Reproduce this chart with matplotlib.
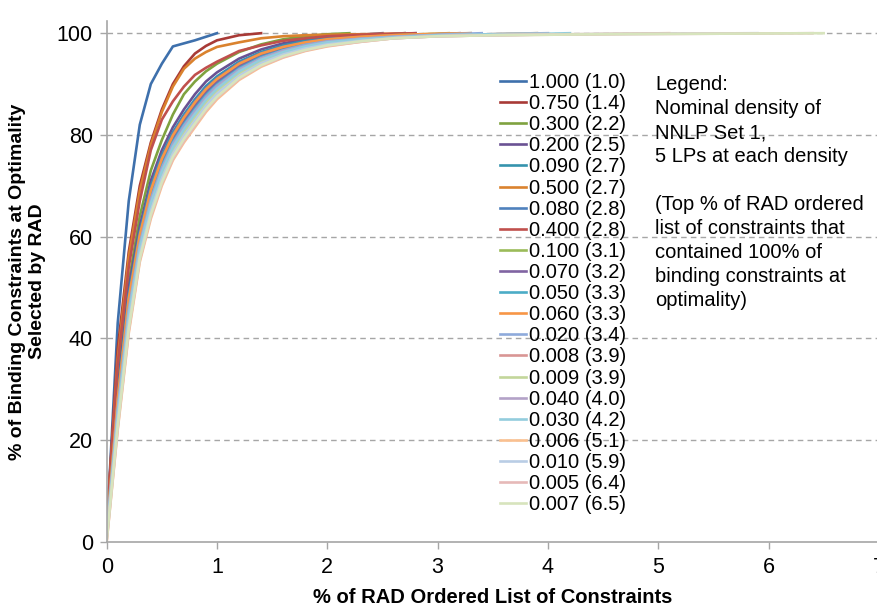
import matplotlib
matplotlib.use("Agg")
import matplotlib.pyplot as plt

plt.rcParams['font.family'] = ['Liberation Sans', 'DejaVu Sans']

grid = [0, 0.1, 0.2, 0.3, 0.4, 0.5, 0.6, 0.7, 0.8, 0.9, 1.0, 1.2, 1.4, 1.6, 1.8, 2.0]

labels = ["1.000 (1.0)", "0.750 (1.4)", "0.300 (2.2)", "0.200 (2.5)", "0.090 (2.7)",
          "0.500 (2.7)", "0.080 (2.8)", "0.400 (2.8)", "0.100 (3.1)", "0.070 (3.2)",
          "0.050 (3.3)", "0.060 (3.3)", "0.020 (3.4)", "0.008 (3.9)", "0.009 (3.9)",
          "0.040 (4.0)", "0.030 (4.2)", "0.006 (5.1)", "0.010 (5.9)", "0.005 (6.4)",
          "0.007 (6.5)"]

colors = ["#3E70AC", "#A83A36", "#7FA23F", "#6A5293", "#3593AD", "#DA822E",
          "#4F81BD", "#C0504D", "#9BBB59", "#8064A2", "#4BACC6", "#F79646",
          "#8EAADB", "#D99694", "#C3D69B", "#B3A2C7", "#93CDDD", "#FAC090",
          "#B9CDE5", "#E6B9B8", "#D7E4BD"]

# x positions (% of RAD ordered list) and y values (% binding constraints)
x_d1000 = [0, 0.1, 0.2, 0.3, 0.4, 0.5, 0.6, 0.7, 0.8, 0.9, 1.0]
y_d1000 = [2, 43, 67, 82, 90, 94, 97.4, 98.0, 98.6, 99.3, 100]

x_d0750 = [0, 0.1, 0.2, 0.3, 0.4, 0.5, 0.6, 0.7, 0.8, 0.9, 1.0, 1.2, 1.4]
y_d0750 = [3, 38, 57, 70, 78.5, 85, 90, 93.5, 96, 97.5, 98.6, 99.6, 100]

x_d0300 = grid[:15] + [2.0, 2.2]
y_d0300 = [3, 32, 51, 64, 73, 79, 84, 88, 90.5, 92.5, 94, 96.3, 97.8, 98.8, 99.4, 99.8, 100]

x_d0200 = grid + [2.3, 2.5]
y_d0200 = [3, 30, 50, 62, 71, 77, 81.5, 85, 88, 90.5, 92.3, 95, 96.8, 98, 98.8, 99.3, 99.7, 100]

x_d0090 = grid + [2.3, 2.6, 2.7]
y_d0090 = [2.5, 28.8, 48.6, 61, 69.9, 76, 80.5, 84, 87, 89.6, 91.5, 94.4, 96.3, 97.6, 98.5, 99.0, 99.5, 99.8, 100]

x_d0500 = grid + [2.3, 2.6, 2.7]
y_d0500 = [3, 36, 56, 69, 78, 84.5, 89.5, 93, 95, 96.3, 97.3, 98.2, 99.0, 99.4, 99.6, 99.7, 99.8, 99.9, 100]

x_d0080 = grid + [2.3, 2.6, 2.8]
y_d0080 = [2.4, 28.4, 48.2, 60.6, 69.5, 75.6, 80.2, 83.7, 86.7, 89.3, 91.2, 94.2, 96.1, 97.4, 98.3, 98.9, 99.4, 99.8, 100]

x_d0400 = grid + [2.3, 2.6, 2.8]
y_d0400 = [4, 35, 54, 67, 77, 83, 86.6, 89.5, 91.8, 93.2, 94.4, 96.5, 97.6, 98.5, 99.0, 99.4, 99.7, 99.9, 100]

x_d0100 = grid + [2.3, 2.6, 3.0, 3.1]
y_d0100 = [2.1, 27.6, 47.3, 59.9, 68.8, 74.9, 79.6, 83.1, 86.1, 88.7, 90.7, 93.7, 95.8, 97.2, 98.1, 98.7, 99.2, 99.6, 99.9, 100]

x_d0070 = grid + [2.3, 2.6, 3.0, 3.2]
y_d0070 = [2, 27.2, 46.9, 59.6, 68.4, 74.6, 79.2, 82.7, 85.7, 88.4, 90.4, 93.5, 95.6, 97, 98, 98.6, 99.1, 99.5, 99.8, 100]

x_d0050 = grid + [2.3, 2.6, 3.0, 3.3]
y_d0050 = [1.7, 26.4, 46, 58.9, 67.6, 73.9, 78.6, 82.1, 85.1, 87.8, 89.9, 93.1, 95.3, 96.7, 97.8, 98.4, 99.0, 99.4, 99.8, 100]

x_d0060 = grid + [2.3, 2.6, 3.0, 3.3]
y_d0060 = [2.3, 28, 47.8, 60.3, 69.1, 75.3, 79.9, 83.4, 86.4, 89, 91, 94, 96, 97.3, 98.2, 98.8, 99.3, 99.6, 99.9, 100]

x_d0020 = grid + [2.3, 2.6, 3.0, 3.4]
y_d0020 = [1.5, 26, 45.5, 58.5, 67.3, 73.5, 78.3, 81.8, 84.8, 87.5, 89.7, 92.9, 95.1, 96.6, 97.7, 98.4, 98.9, 99.3, 99.7, 100]

x_d0008 = grid + [2.3, 2.6, 3.0, 3.5, 3.9]
y_d0008 = [1, 24.8, 44.2, 57.5, 66.1, 72.5, 77.3, 80.8, 83.8, 86.6, 88.9, 92.3, 94.6, 96.2, 97.3, 98.1, 98.7, 99.2, 99.5, 99.8, 100]

x_d0009 = grid + [2.3, 2.6, 3.0, 3.5, 3.9]
y_d0009 = [0.9, 24.4, 43.7, 57.1, 65.8, 72.1, 77, 80.5, 83.5, 86.3, 88.6, 92.1, 94.4, 96, 97.2, 98, 98.6, 99.1, 99.5, 99.8, 100]

x_d0040 = grid + [2.3, 2.6, 3.0, 3.5, 4.0]
y_d0040 = [1.4, 25.6, 45.1, 58.2, 66.9, 73.2, 77.9, 81.4, 84.4, 87.2, 89.4, 92.7, 95, 96.5, 97.5, 98.3, 98.9, 99.3, 99.6, 99.8, 100]

x_d0030 = grid + [2.3, 2.6, 3.0, 3.5, 4.0, 4.2]
y_d0030 = [1.2, 25.2, 44.6, 57.8, 66.5, 72.8, 77.6, 81.1, 84.1, 86.9, 89.1, 92.5, 94.8, 96.3, 97.4, 98.2, 98.8, 99.2, 99.6, 99.8, 99.9, 100]

x_d0006 = grid + [2.3, 2.6, 3.0, 3.5, 4.0, 4.5, 5.1]
y_d0006 = [0, 22, 41, 55, 63.5, 70, 75, 78.5, 81.5, 84.5, 87, 90.8, 93.4, 95.2, 96.5, 97.4, 98.3, 99.0, 99.4, 99.6, 99.75, 99.85, 100]

x_d0010 = grid + [2.3, 2.6, 3.0, 3.5, 4.0, 4.5, 5.0, 5.5, 5.9]
y_d0010 = [0.6, 23.6, 42.8, 56.4, 65, 71.4, 76.3, 79.8, 82.8, 85.7, 88.1, 91.6, 94.1, 95.8, 97, 97.8, 98.5, 99.0, 99.4, 99.6, 99.75, 99.85, 99.9, 99.95, 100]

x_d0005 = grid + [2.3, 2.6, 3.0, 3.5, 4.0, 4.5, 5.0, 5.5, 6.0, 6.4]
y_d0005 = [0.15, 22.4, 41.5, 55.4, 63.9, 70.4, 75.3, 78.8, 81.8, 84.8, 87.3, 91, 93.6, 95.3, 96.6, 97.5, 98.3, 99.0, 99.4, 99.6, 99.7, 99.8, 99.85, 99.9, 99.95, 100]

x_d0007 = grid + [2.3, 2.6, 3.0, 3.5, 4.0, 4.5, 5.0, 5.5, 6.0, 6.5]
y_d0007 = [0.3, 22.8, 41.9, 55.7, 64.3, 70.7, 75.7, 79.2, 82.2, 85.1, 87.5, 91.2, 93.7, 95.5, 96.7, 97.6, 98.4, 99.0, 99.4, 99.6, 99.7, 99.8, 99.85, 99.9, 99.95, 100]

series = [(x_d1000, y_d1000), (x_d0750, y_d0750), (x_d0300, y_d0300), (x_d0200, y_d0200),
          (x_d0090, y_d0090), (x_d0500, y_d0500), (x_d0080, y_d0080), (x_d0400, y_d0400),
          (x_d0100, y_d0100), (x_d0070, y_d0070), (x_d0050, y_d0050), (x_d0060, y_d0060),
          (x_d0020, y_d0020), (x_d0008, y_d0008), (x_d0009, y_d0009), (x_d0040, y_d0040),
          (x_d0030, y_d0030), (x_d0006, y_d0006), (x_d0010, y_d0010), (x_d0005, y_d0005),
          (x_d0007, y_d0007)]

YTOP = 102.4
fig = plt.figure(figsize=(8.77, 6.10), dpi=100)
ax_h_px = 5.085 * YTOP
ax = fig.add_axes([106.7 / 877, (610 - 541.7) / 610, 772.1 / 877, ax_h_px / 610])

grid_col = "#A6A6A6"
for yv in [20, 40, 60, 80, 100]:
    ax.axhline(yv, color=grid_col, lw=1.0, ls=(0, (4, 3)), zorder=0)

handles = []
for (xs, ys), lab, col in zip(series, labels, colors):
    h, = ax.plot(xs, ys, color=col, lw=1.9, label=lab, solid_joinstyle='round')
    handles.append(h)

ax.set_xlim(0, 7)
ax.set_ylim(0, YTOP)
ax.set_xticks(range(0, 8))
ax.set_yticks([0, 20, 40, 60, 80, 100])
ax.tick_params(axis='both', colors=grid_col, labelcolor='black', labelsize=15.5,
               length=5, width=1.0, direction='out')
ax.tick_params(axis='x', pad=6)
ax.tick_params(axis='y', pad=5)
for s in ['top', 'right']:
    ax.spines[s].set_visible(False)
for s in ['left', 'bottom']:
    ax.spines[s].set_color(grid_col)
    ax.spines[s].set_linewidth(1.2)

ax.set_xlabel("% of RAD Ordered List of Constraints", fontsize=14.5, fontweight='bold', labelpad=7)
ax.set_ylabel("% of Binding Constraints at Optimality\nSelected by RAD", fontsize=14,
              fontweight='bold', labelpad=8, linespacing=1.2)

leg = fig.legend(handles=handles, loc='upper left', bbox_to_anchor=(500 / 877, 1 - 73 / 610),
                 frameon=False, fontsize=14.5, handlelength=1.3, handletextpad=0.15,
                 labelspacing=0.105, borderaxespad=0, borderpad=0)

fig.text(655 / 877, 1 - 75 / 610,
         "Legend:\nNominal density of\nNNLP Set 1,\n5 LPs at each density\n\n"
         "(Top % of RAD ordered\nlist of constraints that\ncontained 100% of\n"
         "binding constraints at\noptimality)",
         fontsize=14.5, va='top', ha='left', linespacing=1.335)

fig.savefig("out.png", dpi=100)
